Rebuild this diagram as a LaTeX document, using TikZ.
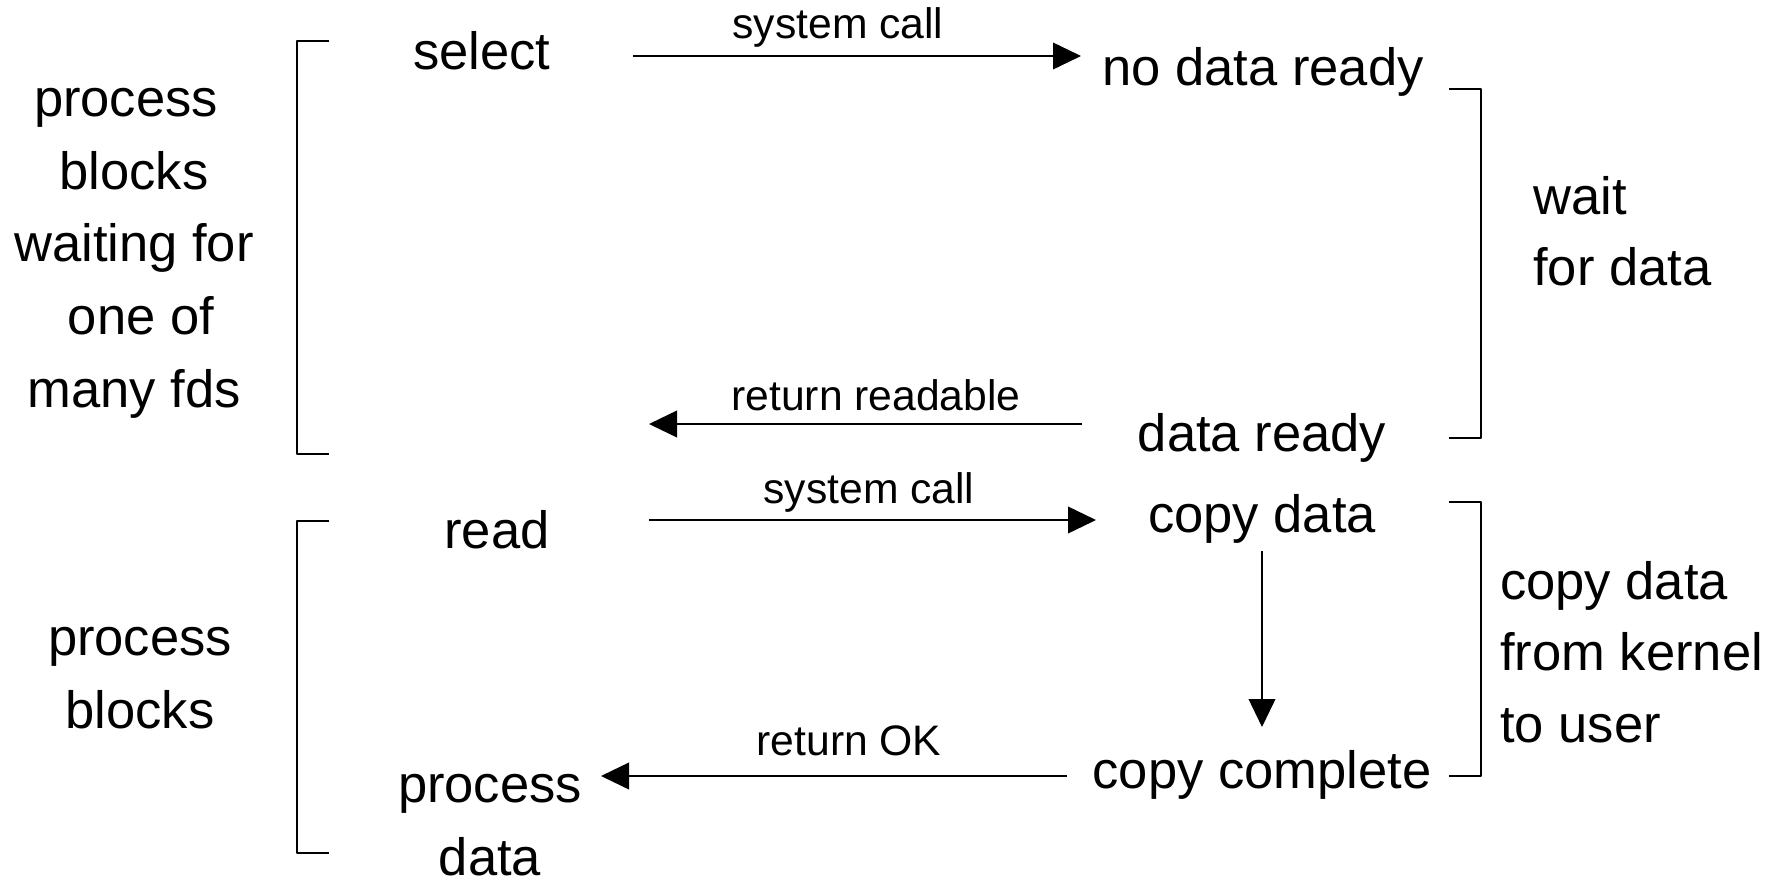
\documentclass[tikz,border=0pt]{standalone}
\usepackage{fontspec}
\setmainfont{Liberation Sans}
\usetikzlibrary{arrows.meta}
\begin{document}
\begin{tikzpicture}[x=0.75pt,y=-0.75pt,
  big/.style={font=\fontsize{39.4}{54.5}\selectfont, inner sep=0pt, align=center},
  bigl/.style={font=\fontsize{39.4}{53.5}\selectfont, inner sep=0pt, align=left},
  small/.style={font=\fontsize{32}{38}\selectfont, inner sep=0pt},
  arr/.style={line width=1.3pt, -{Triangle[length=21pt,width=20pt]}},
  brk/.style={line width=1.3pt, line join=round}]
\useasboundingbox (0,0) rectangle (1786,882);

% left texts
\node[big] (lt1) at (134,253) {process\hspace*{12pt}\\blocks\hspace*{10.5pt}\\waiting for\\\hspace*{10.5pt}one of\\many fds};
\node[big] (lt2) at (140,678) {process\\blocks};

% left brackets
\draw[brk] (329,41) -- (297,41) -- (297,454) -- (329,454);
\draw[brk] (329,521) -- (297,521) -- (297,853) -- (329,853);

% application side
\node[big] (select) at (482,51) {select};
\node[big] (read) at (497,530) {read};
\node[big, anchor=north, text depth=0pt] (proc) at (490,774) {process\\data};

% kernel side
\node[big] (nodata) at (1263,71.5) {no data ready};
\node[big] (ready) at (1262,437.5) {data ready};
\node[big] (copy) at (1262,518.5) {copy data};
\node[big] (complete) at (1262,774.5) {copy complete};

% right brackets
\draw[brk] (1449,89) -- (1481,89) -- (1481,438) -- (1449,438);
\draw[brk] (1449,502) -- (1481,502) -- (1481,776) -- (1449,776);

% right texts
\node[bigl, anchor=west] (rt1) at (1533,231) {wait\\for data};
\node[bigl, anchor=west] (rt2) at (1500,652) {copy data\\from kernel\\to user};

% arrow end points
\coordinate (a1s) at (633,56);  \coordinate (a1e) at (1081,56);
\coordinate (a2s) at (1082,424); \coordinate (a2e) at (649,424);
\coordinate (a3s) at (649,520); \coordinate (a3e) at (1096,520);
\coordinate (a4s) at (1067,776); \coordinate (a4e) at (601,776);
\coordinate (v1) at (1262,551); \coordinate (v2) at (1262,727);

% arrows
\draw[arr] (a1s) -- (a1e);
\draw[arr] (a2s) -- (a2e);
\draw[arr] (a3s) -- (a3e);
\draw[arr] (a4s) -- (a4e);
\draw[arr] (v1) -- (v2);

% arrow labels
\node[small] (l1) at (838,27) {system call};
\node[small] (l2) at (876,395) {return readable};
\node[small] (l3) at (869,492) {system call};
\node[small] (l4) at (849,741) {return OK};
\end{tikzpicture}
\end{document}
